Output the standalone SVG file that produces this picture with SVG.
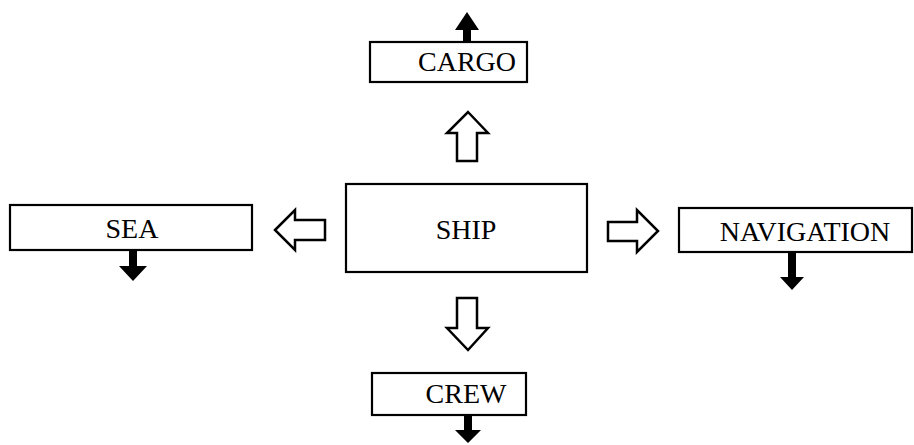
<svg xmlns="http://www.w3.org/2000/svg" width="914" height="445" viewBox="0 0 914 445">
<style>
.box{fill:#fff;stroke:#000;stroke-width:2.2}
.lbl{font-family:"Liberation Serif","Times New Roman",serif;font-size:28px;fill:#000;text-anchor:middle}
.hollow{fill:#fff;stroke:#000;stroke-width:2.5;stroke-linejoin:miter}
.solid{fill:#000;stroke:none}
</style>
<rect width="914" height="445" fill="#fff"/>
<g id="connectors">
  <polygon class="hollow" points="468,112 488,133 477,133 477,161 457,161 457,133 447,133"/>
  <polygon class="hollow" points="457,298 477,298 477,328 488,328 468,350 447,328 457,328"/>
  <polygon class="hollow" points="275,230 295,210 295,220 325,220 325,240 295,240 295,250"/>
  <polygon class="hollow" points="608,222 637,222 637,210 658,231 637,252 637,241 608,241"/>
  <polygon class="solid" points="467,12 479,30 471,30 471,42 463,42 463,30 455,30"/>
  <polygon class="solid" points="129,250 137,250 137,266 147,266 133,281 119,266 129,266"/>
  <polygon class="solid" points="788,252 796,252 796,277 804,277 792,290 780,277 788,277"/>
  <polygon class="solid" points="464,415 472,415 472,430 481,430 468,443 455,430 464,430"/>
</g>
<g id="node-cargo">
  <rect class="box" x="370" y="42" width="157" height="40"/>
  <text class="lbl" x="467" y="71">CARGO</text>
</g>
<g id="node-ship">
  <rect class="box" x="346" y="184" width="241" height="88"/>
  <text class="lbl" x="466" y="239">SHIP</text>
</g>
<g id="node-sea">
  <rect class="box" x="10" y="205" width="242" height="45"/>
  <text class="lbl" x="132" y="238">SEA</text>
</g>
<g id="node-navigation">
  <rect class="box" x="679" y="208" width="233" height="44"/>
  <text class="lbl" x="805" y="241">NAVIGATION</text>
</g>
<g id="node-crew">
  <rect class="box" x="372" y="373" width="154" height="42"/>
  <text class="lbl" x="466" y="403">CREW</text>
</g>
</svg>
